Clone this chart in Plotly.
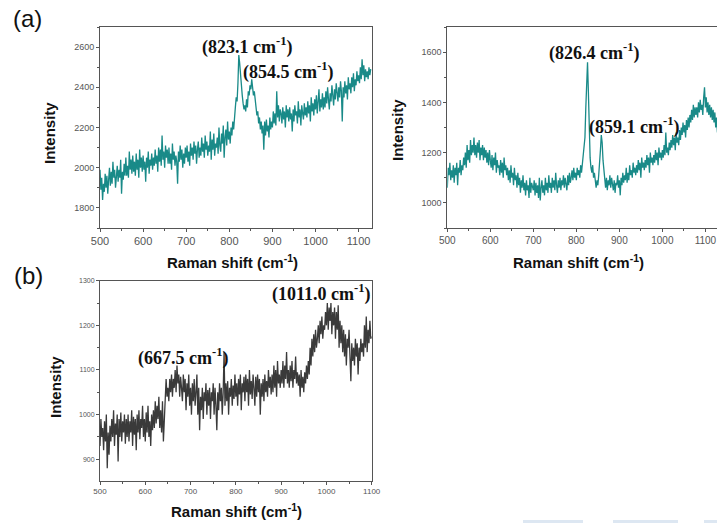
import plotly.graph_objects as go

W, H = 717, 523

# ---------------- data ----------------
x_a = list(range(500, 1130, 2))          # Raman shift grid, panels (a)
int_a1 = [1990, 1890, 1950, 1840, 1920, 1880, 1970, 1900, 1960, 1870,
          1940, 2000, 1910, 1980, 1920, 2030, 1950, 1990, 1900, 1970,
          2010, 1930, 1990, 1950, 2040, 1870, 1980, 1940, 2020, 1960,
          2050, 1960, 2010, 1950, 2080, 1990, 2040, 1970, 2060, 1980,
          2030, 1960, 2070, 1990, 2040, 1950, 2090, 2000, 2050, 1980,
          2060, 1990, 2030, 1930, 2050, 2000, 2080, 1970, 2040, 2010,
          2070, 1990, 2050, 2010, 2090, 2020, 2060, 1980, 2100, 2030,
          2090, 2010, 2160, 2040, 2080, 2000, 2110, 2050, 2090, 2020,
          2100, 2020, 2070, 1990, 2120, 2040, 2080, 2010, 2060, 2030,
          1920, 2080, 2030, 2110, 2040, 2090, 2000, 2070, 2020, 2100,
          2050, 2110, 2030, 2080, 2010, 2120, 2060, 2100, 2040, 2130,
          2070, 2110, 2020, 2090, 2130, 2050, 2100, 2060, 2150, 2080,
          2120, 2050, 2160, 2090, 2130, 2060, 2110, 2080, 2180, 2040,
          2140, 2090, 2170, 2060, 2120, 2100, 2150, 2070, 2200, 2110,
          2080, 2170, 2120, 2210, 2050, 2150, 2190, 2110, 2230, 2140,
          2180, 2120, 2200, 2160, 2230, 2190, 2280, 2300, 2350, 2330,
          2420, 2560, 2520, 2450, 2400, 2360, 2320, 2290, 2310, 2280,
          2340, 2300, 2380, 2360, 2410, 2390, 2440, 2400, 2360, 2380,
          2330, 2300, 2260, 2280, 2220, 2250, 2190, 2230, 2170, 2210,
          2090, 2230, 2160, 2240, 2180, 2210, 2150, 2250, 2190, 2230,
          2200, 2280, 2220, 2270, 2210, 2380, 2250, 2310, 2230, 2290,
          2270, 2220, 2300, 2240, 2280, 2200, 2310, 2250, 2290, 2230,
          2300, 2240, 2270, 2180, 2290, 2230, 2310, 2260, 2280, 2220,
          2330, 2250, 2290, 2210, 2310, 2270, 2240, 2320, 2260, 2300,
          2250, 2330, 2270, 2310, 2230, 2350, 2280, 2320, 2260, 2340,
          2290, 2360, 2270, 2330, 2390, 2280, 2340, 2300, 2370, 2290,
          2350, 2300, 2380, 2320, 2400, 2340, 2290, 2370, 2330, 2410,
          2360, 2310, 2390, 2340, 2420, 2370, 2330, 2400, 2350, 2430,
          2380, 2230, 2400, 2350, 2430, 2370, 2410, 2340, 2450, 2390,
          2420, 2370, 2450, 2400, 2470, 2380, 2440, 2410, 2480, 2430,
          2460, 2420, 2500, 2440, 2540, 2460, 2510, 2430, 2490, 2450,
          2480, 2440, 2500, 2460, 2490]

int_a2 = [1060, 1140, 1110, 1160, 1090, 1130, 1100, 1150, 1080, 1140,
          1110, 1160, 1070, 1140, 1120, 1170, 1110, 1150, 1130, 1180,
          1150, 1200, 1140, 1230, 1170, 1210, 1160, 1250, 1190, 1230,
          1200, 1260, 1190, 1230, 1180, 1240, 1200, 1250, 1170, 1220,
          1190, 1230, 1170, 1220, 1180, 1210, 1160, 1200, 1150, 1210,
          1170, 1140, 1190, 1130, 1180, 1150, 1200, 1120, 1170, 1140,
          1150, 1110, 1170, 1120, 1160, 1100, 1180, 1130, 1150, 1110,
          1140, 1090, 1130, 1080, 1150, 1100, 1120, 1070, 1140, 1090,
          1110, 1060, 1120, 1070, 1100, 1040, 1090, 1060, 1110, 1050,
          1080, 1030, 1090, 1050, 1070, 1020, 1100, 1040, 1080, 1060,
          1050, 1090, 1030, 1080, 1040, 1070, 1020, 1100, 1010, 1060,
          1090, 1040, 1070, 1030, 1100, 1050, 1080, 1040, 1110, 1060,
          1080, 1040, 1100, 1060, 1090, 1050, 1120, 1070, 1040, 1090,
          1060, 1100, 1050, 1090, 1070, 1110, 1060, 1100, 1080, 1050,
          1110, 1070, 1120, 1080, 1100, 1130, 1090, 1140, 1100, 1120,
          1090, 1140, 1110, 1130, 1100, 1150, 1120, 1160, 1180, 1210,
          1260, 1380, 1500, 1560, 1440, 1280, 1180, 1140, 1120, 1150,
          1100, 1120, 1080, 1060, 1090, 1070, 1110, 1150, 1210, 1270,
          1240, 1170, 1120, 1080, 1060, 1100, 1050, 1090, 1070, 1110,
          1060, 1100, 1080, 1050, 1090, 1040, 1080, 1070, 1110, 1060,
          1090, 1030, 1100, 1070, 1120, 1080, 1110, 1090, 1140, 1080,
          1120, 1090, 1150, 1110, 1130, 1100, 1160, 1120, 1140, 1110,
          1150, 1120, 1170, 1130, 1160, 1100, 1180, 1140, 1160, 1130,
          1170, 1140, 1190, 1150, 1180, 1120, 1200, 1160, 1180, 1150,
          1190, 1160, 1210, 1170, 1200, 1150, 1220, 1180, 1200, 1170,
          1210, 1180, 1230, 1190, 1280, 1200, 1220, 1190, 1240, 1210,
          1250, 1220, 1270, 1230, 1260, 1210, 1280, 1240, 1260, 1230,
          1290, 1250, 1300, 1270, 1320, 1280, 1310, 1260, 1330, 1290,
          1340, 1300, 1350, 1320, 1370, 1330, 1390, 1340, 1380, 1350,
          1380, 1340, 1400, 1360, 1410, 1370, 1390, 1350, 1420, 1460,
          1380, 1420, 1360, 1400, 1350, 1390, 1340, 1380, 1330, 1370,
          1320, 1360, 1300, 1340, 1280]

x_b = list(range(500, 1102, 2))          # Raman shift grid, panel (b)
int_b = [930, 990, 950, 970, 920, 985, 940, 1000, 880, 960,
         910, 975, 940, 990, 950, 1010, 930, 980, 955, 1000,
         895, 990, 950, 1005, 940, 985, 960, 1000, 935, 990,
         950, 1000, 940, 985, 960, 1010, 930, 995, 955, 990,
         920, 1000, 960, 1010, 945, 990, 970, 1020, 950, 990,
         940, 1005, 960, 1020, 950, 985, 930, 1000, 965, 1010,
         970, 1030, 980, 1020, 990, 1040, 970, 1010, 960, 1030,
         940, 1000, 1020, 1080, 1040, 1060, 1030, 1080, 1050, 1090,
         1040, 1080, 1060, 1100, 1050, 1110, 1070, 1090, 1040, 1085,
         1060, 1030, 1090, 1050, 1080, 1010, 1070, 1040, 1090, 1020,
         1060, 1000, 1070, 1030, 1080, 1020, 1050, 1090, 1000, 1060,
         965, 1040, 1010, 1060, 990, 1050, 1030, 1070, 1000, 1055,
         1020, 1060, 990, 1050, 1030, 1070, 1000, 1060, 1020, 965,
         1050, 1010, 1070, 1030, 1060, 1000, 1050, 1140, 1020, 1070,
         1030, 1075, 1000, 1060, 1040, 1080, 1020, 1065, 1035, 1090,
         1040, 1070, 1020, 1080, 1045, 1090, 1010, 1070, 1050, 1085,
         1030, 1090, 1050, 1080, 1020, 1100, 1045, 1075, 1035, 1090,
         1060, 1020, 1085, 1040, 1090, 1050, 1080, 1000, 1070, 1040,
         1080, 1030, 1090, 1050, 1075, 1040, 1100, 1060, 1085, 1045,
         1090, 1050, 1110, 1060, 1100, 1040, 1120, 1070, 1090, 1060,
         1100, 1070, 1120, 1060, 1110, 1080, 1140, 1070, 1100, 1060,
         1110, 1075, 1120, 1060, 1100, 1080, 1130, 1070, 1095, 1065,
         1090, 1040, 1100, 1060, 1085, 1050, 1095, 1070, 1110, 1080,
         1120, 1090, 1150, 1110, 1170, 1130, 1180, 1140, 1190, 1150,
         1170, 1200, 1160, 1210, 1180, 1220, 1170, 1200, 1190, 1230,
         1200, 1250, 1190, 1240, 1210, 1250, 1180, 1230, 1200, 1240,
         1170, 1230, 1190, 1245, 1150, 1210, 1160, 1200, 1140, 1190,
         1130, 1180, 1110, 1170, 1150, 1190, 1130, 1075, 1160, 1120,
         1150, 1110, 1170, 1130, 1160, 1090, 1150, 1120, 1170, 1140,
         1160, 1130, 1200, 1150, 1220, 1140, 1190, 1160, 1210, 1170,
         1175]

x_ticks = [500, 600, 700, 800, 900, 1000, 1100]
y_ticks_a1 = [1800, 2000, 2200, 2400, 2600]
y_ticks_a2 = [1000, 1200, 1400, 1600]
y_ticks_b = [900, 1000, 1100, 1200, 1300]

peaks_a1 = ["(823.1 cm<sup>-1</sup>)", "(854.5 cm<sup>-1</sup>)"]
peaks_a2 = ["(826.4 cm<sup>-1</sup>)", "(859.1 cm<sup>-1</sup>)"]
peaks_b = ["(1011.0 cm<sup>-1</sup>)", "(667.5 cm<sup>-1</sup>)"]

TEAL = "#198a88"
DARK = "#3a3a3a"
AX = "#555555"


def px(x):
    return x / W


def py(y):
    return 1 - y / H


fig = go.Figure()
fig.add_trace(go.Scatter(x=x_a, y=int_a1, mode="lines", line=dict(color=TEAL, width=1.3),
                         xaxis="x", yaxis="y", showlegend=False))
fig.add_trace(go.Scatter(x=x_a, y=int_a2, mode="lines", line=dict(color=TEAL, width=1.3),
                         xaxis="x2", yaxis="y2", showlegend=False))
fig.add_trace(go.Scatter(x=x_b, y=int_b, mode="lines", line=dict(color=DARK, width=1.3),
                         xaxis="x3", yaxis="y3", showlegend=False))


def xax(dom, rng, anchor, fs, mirror=True):
    return dict(domain=dom, range=rng, anchor=anchor, tickvals=x_ticks, ticks="outside",
                ticklen=3, tickcolor=AX, showline=True, linecolor=AX, linewidth=1, mirror=mirror,
                showgrid=False, zeroline=False, automargin=False,
                tickfont=dict(family="Liberation Sans", size=fs, color=AX),
                minor=dict(dtick=50, tick0=500, ticks="outside", ticklen=2, tickcolor=AX))


def yax(dom, rng, anchor, tv, mdt, fs, mirror=True):
    return dict(domain=dom, range=rng, anchor=anchor, tickvals=tv, ticks="outside",
                ticklen=3, tickcolor=AX, showline=True, linecolor=AX, linewidth=1, mirror=mirror,
                showgrid=False, zeroline=False, automargin=False,
                tickfont=dict(family="Liberation Sans", size=fs, color=AX),
                minor=dict(dtick=mdt, ticks="outside", ticklen=2, tickcolor=AX))


top_dom = [py(228), py(27)]
bot_dom = [py(480.7), py(280.7)]

fig.update_layout(
    width=W, height=H, margin=dict(l=0, r=0, t=0, b=0, autoexpand=False),
    paper_bgcolor="white", plot_bgcolor="white",
    xaxis=xax([px(100), px(372)], [500, 1131], "y", 11),
    yaxis=yax(top_dom, [1700, 2700], "x", y_ticks_a1, 100, 9),
    xaxis2=xax([px(447.3), 1.0], [500, 1127], "y2", 10),
    yaxis2=yax(top_dom, [900, 1700], "x2", y_ticks_a2, 100, 9, mirror=False),
    xaxis3=xax([px(100), px(371.7)], [500, 1100], "y3", 8),
    yaxis3=yax(bot_dom, [852, 1300], "x3", y_ticks_b, 50, 7),
)

ann = []
SER = dict(family="Liberation Serif", size=18, color="#111111")
SANS_B = dict(family="Liberation Sans", size=15, color="#111111")


def add(text, x, y, font, angle=0):
    ann.append(dict(text=text, x=px(x), y=py(y), xref="paper", yref="paper", showarrow=False,
                    xanchor="center", yanchor="middle", font=font, textangle=angle))


add("(a)", 27, 18, dict(family="Liberation Sans", size=24, color="#111111"))
add("(b)", 28, 275, dict(family="Liberation Sans", size=24, color="#111111"))

add("<b>" + peaks_a1[0] + "</b>", 247, 46, SER)
add("<b>" + peaks_a1[1] + "</b>", 288, 71, SER)
add("<b>" + peaks_a2[0] + "</b>", 594, 52, SER)
add("<b>" + peaks_a2[1] + "</b>", 634, 126, SER)
add("<b>" + peaks_b[0] + "</b>", 321, 293, SER)
add("<b>" + peaks_b[1] + "</b>", 183, 357, SER)

xt = "<b>Raman shift (cm<sup>-1</sup>)</b>"
add(xt, 232, 261, SANS_B)
add(xt, 578, 261, SANS_B)
add(xt, 236, 510, SANS_B)

add("<b>Intensity</b>", 50, 133, SANS_B, -90)
add("<b>Intensity</b>", 397, 130, SANS_B, -90)
add("<b>Intensity</b>", 55, 387, SANS_B, -90)

fig.update_layout(annotations=ann)

shapes = []
for x0, x1 in [(523, 583), (613, 678), (704, 717)]:
    shapes.append(dict(type="rect", xref="paper", yref="paper", x0=px(x0), x1=px(x1),
                       y0=0, y1=py(520), fillcolor="#dde7f2", line=dict(width=0), layer="below"))
fig.update_layout(shapes=shapes)

fig.write_html("out.html", config={"displayModeBar": False},
               post_script="document.body.style.margin='0';document.body.style.padding='0';"
                           "document.body.style.overflow='hidden';")
